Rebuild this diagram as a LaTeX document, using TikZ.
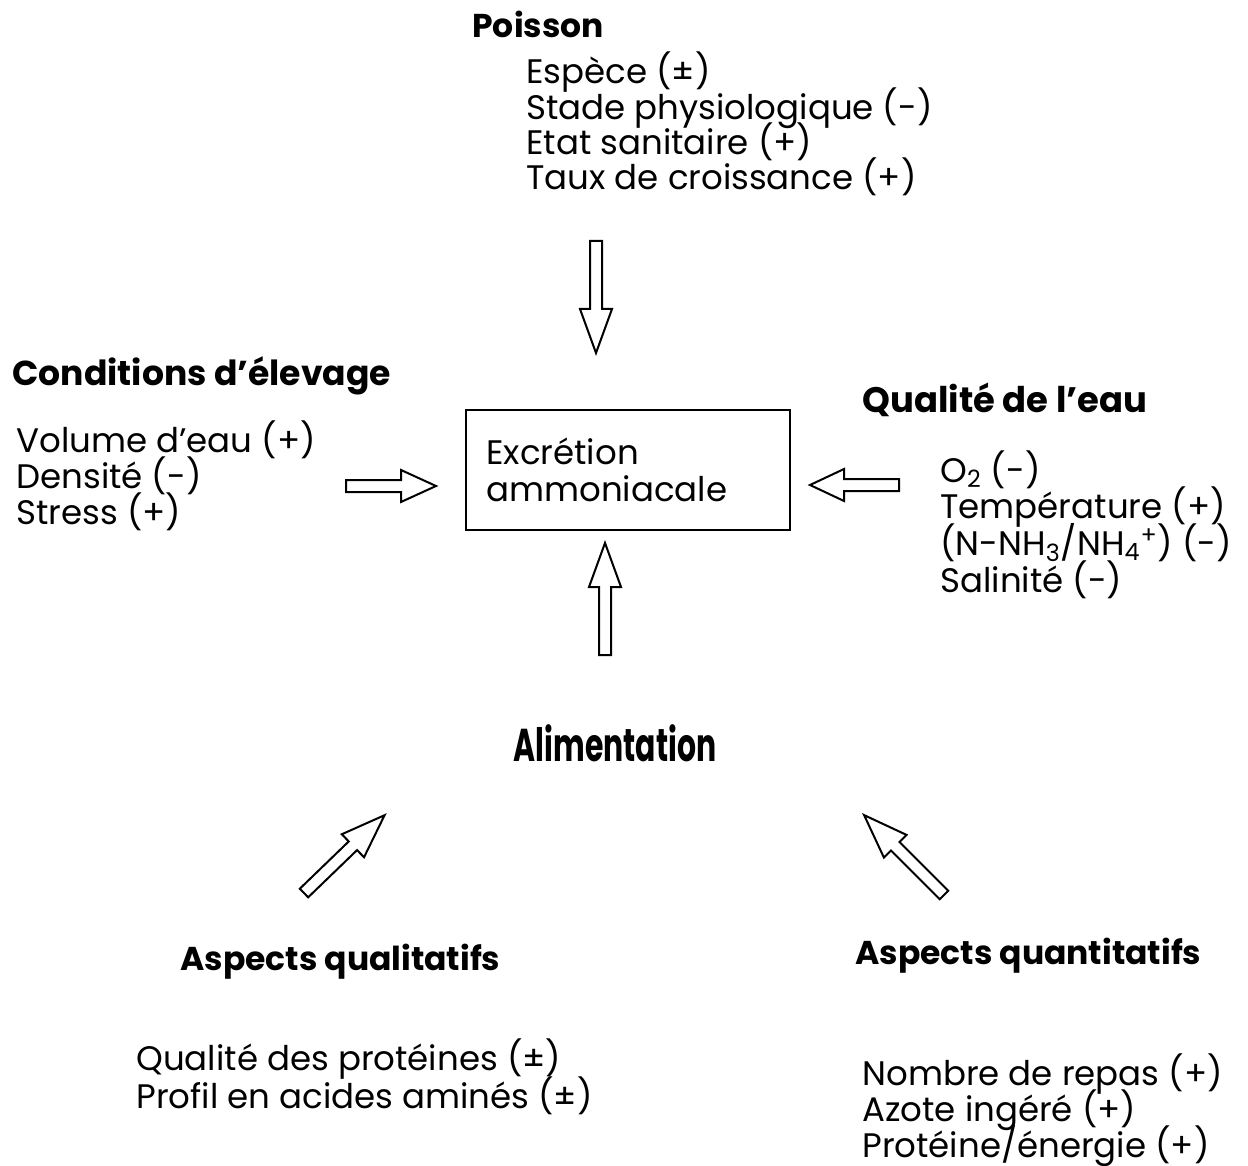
\documentclass[tikz,border=0pt]{standalone}
\usepackage{fontspec}
\setmainfont{Poppins}
\usetikzlibrary{positioning}
\newcommand\tightlines{\lineskiplimit -20pt\relax}

\tikzset{
	heading/.style={font=\fontsize{16.5}{19}\selectfont\bfseries, inner sep=0pt, anchor=base west},
	factors/.style={font=\fontsize{17}{18}\selectfont\tightlines, align=left, inner sep=0pt, anchor=north west},
	pics/blockarrow/.style 2 args={code={
		\draw[line width=1pt] (0,6) -- ({#1-#2},6) -- ({#1-#2},16) -- (#1,0) -- ({#1-#2},-16) -- ({#1-#2},-6) -- (0,-6) -- cycle;
	}}
}

\begin{document}
\begin{tikzpicture}[x=0.5pt,y=0.5pt]
	\useasboundingbox (0,0) rectangle (1248,-1166);
	% centre
	\node[draw,line width=1.2pt,minimum width=162pt,minimum height=60pt,inner sep=0pt] (excretion) at (628,-470) {};
	\node[factors,font=\fontsize{17}{18.5}\selectfont\tightlines] (excrtext) at (486,-438) {Excrétion\\ammoniacale};
	% poisson
	\node[heading] (poisson) at (472,-37.5) {Poisson};
	\node[factors,font=\fontsize{17}{17.7}\selectfont\tightlines] (poissonlist) at (526,-51.5) {Espèce (±)\\Stade physiologique (-)\\Etat sanitaire (+)\\Taux de croissance (+)};
	% conditions d'elevage
	\node[heading,font=\fontsize{17.3}{19}\selectfont\bfseries] (elevage) at (12,-385.5) {Conditions d’élevage};
	\node[factors] (elevagelist) at (16,-420.5) {Volume d’eau (+)\\Densité (-)\\Stress (+)};
	% qualite de l'eau
	\node[heading,font=\fontsize{17.7}{19}\selectfont\bfseries] (eau) at (862,-412.5) {Qualité de l’eau};
	\node[factors,font=\fontsize{17}{18.4}\selectfont\tightlines] (eaulist) at (940,-450) {O\textsubscript{2} (-)\\Température (+)\\(N-NH\textsubscript{3}/NH\textsubscript{4}\textsuperscript{+}) (-)\\Salinité (-)};
	% alimentation
	\node[font=\fontsize{23}{28}\selectfont\bfseries,xscale=0.65,inner sep=0pt] (alim) at (615,-743) {Alimentation};
	\node[heading] (quali) at (180,-970.5) {Aspects qualitatifs};
	\node[factors,font=\fontsize{17}{19}\selectfont\tightlines] (qualilist) at (136,-1038.5) {Qualité des protéines (±)\\Profil en acides aminés (±)};
	\node[heading] (quanti) at (855,-964.5) {Aspects quantitatifs};
	\node[factors] (quantilist) at (862,-1053) {Nombre de repas (+)\\Azote ingéré (+)\\Protéine/énergie (+)};
	% fleches
	\coordinate (fromtop) at (596,-241);
	\coordinate (fromleft) at (346,-486);
	\coordinate (fromright) at (899,-485);
	\coordinate (frombelow) at (605,-655);
	\coordinate (fromquali) at (304,-893);
	\coordinate (fromquanti) at (944,-895);
	\pic[rotate=-90] at (fromtop) {blockarrow={112}{44}};
	\pic at (fromleft) {blockarrow={90}{35}};
	\pic[rotate=180] at (fromright) {blockarrow={89}{34}};
	\pic[rotate=90] at (frombelow) {blockarrow={112}{44}};
	\pic[rotate=44] at (fromquali) {blockarrow={112}{44}};
	\pic[rotate=135] at (fromquanti) {blockarrow={113}{44}};
\end{tikzpicture}
\end{document}
